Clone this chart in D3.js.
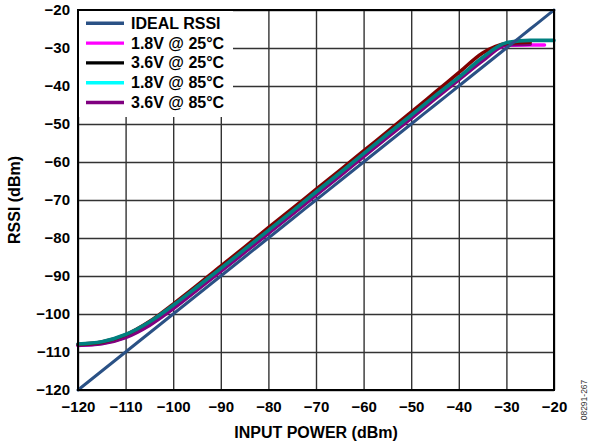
<!DOCTYPE html>
<html lang="en">
<head>
<meta charset="utf-8">
<title>RSSI vs Input Power</title>
<style>
  body { margin: 0; background: #fff; }
  text { font-family: "Liberation Sans", Arial, sans-serif; font-weight: bold; fill: #000; }
  .tick-label text { font-size: 15px; }
  .axis-title { font-size: 16px; text-anchor: middle; }
  .legend text { font-size: 16px; }
  .grid line { stroke: #333; stroke-width: 1.4; }
  .grid path { display: none; }
  .series { fill: none; stroke-linejoin: round; stroke-linecap: round; }
  .code { font-family: "Liberation Sans", Arial, sans-serif; font-weight: normal; font-size: 8.5px; fill: #333; }
</style>
</head>
<body>
<div id="chart"></div>
<script src="https://cdn.jsdelivr.net/npm/d3@7"></script>
<script>
  // input power points (dBm)
  var powerIn = [-120, -115, -110, -105, -100, -95, -90, -85, -80, -75, -70,
                 -65, -60, -55, -50, -45, -40, -35, -30, -25, -22, -20];

  var idealRssi = [-120, -115, -110, -105, -100, -95, -90, -85, -80, -75, -70,
                   -65, -60, -55, -50, -45, -40, -35, -30, -25, -22, -20];

  var rssi18v25 = [-108.3, -107.7, -106.0, -102.8, -98.4, -93.5, -88.6, -83.6, -78.6, -73.6, -68.5,
                   -63.5, -58.4, -53.3, -48.2, -42.8, -37.9, -33.0, -29.3, -29.2, -29.2, null];

  var rssi36v85 = [-108.2, -107.8, -106.2, -103.0, -98.6, -93.7, -88.8, -83.8, -78.8, -73.8, -68.7,
                   -63.7, -58.6, -53.5, -48.5, -43.4, -38.4, -33.4, -29.2, -29.0, null, null];

  var rssi36v25 = [-108.0, -107.4, -105.5, -102.0, -97.4, -92.5, -87.4, -82.4, -77.3, -72.3, -67.2,
                   -62.2, -57.1, -52.0, -46.9, -41.7, -36.5, -31.3, -28.8, -28.5, null, null];

  var rssi18v85 = [-107.9, -107.3, -105.4, -102.1, -97.7, -92.9, -88.0, -83.0, -78.0, -73.0, -67.9,
                   -62.9, -57.8, -52.7, -47.7, -42.6, -37.7, -32.5, -28.6, -28.0, -28.0, -28.0];

  var xTicks = [-120, -110, -100, -90, -80, -70, -60, -50, -40, -30, -20];
  var yTicks = [-120, -110, -100, -90, -80, -70, -60, -50, -40, -30, -20];

  var legendNames = ["IDEAL RSSI", "1.8V @ 25°C", "3.6V @ 25°C", "1.8V @ 85°C", "3.6V @ 85°C"];
  var legendColors = ["#2a5185", "#ff00ff", "#000000", "#00ffff", "#800080"];

  var width = 590, height = 446;
  var plot = {left: 78, right: 554, top: 10, bottom: 390};

  var svg = d3.select("#chart").append("svg")
              .attr("width", width)
              .attr("height", height);

  var xScale = d3.scaleLinear().domain([-120, -20]).range([plot.left, plot.right]);
  var yScale = d3.scaleLinear().domain([-120, -20]).range([plot.bottom, plot.top]);

  // grid lines
  svg.append("g")
     .attr("class", "grid")
     .attr("transform", "translate(0," + plot.bottom + ")")
     .call(d3.axisBottom(xScale).tickValues(xTicks).tickSize(-(plot.bottom - plot.top)).tickFormat(""));

  svg.append("g")
     .attr("class", "grid")
     .attr("transform", "translate(" + plot.left + ",0)")
     .call(d3.axisLeft(yScale).tickValues(yTicks).tickSize(-(plot.right - plot.left)).tickFormat(""));

  // legend background hides grid
  var legend = svg.append("g").attr("class", "legend");
  legend.append("rect")
        .attr("x", plot.left)
        .attr("y", plot.top)
        .attr("width", 155)
        .attr("height", 107)
        .style("fill", "#fff");

  // series
  var series = [
    {values: rssi18v25, color: "#ff00ff"},
    {values: rssi36v85, color: "#800080"},
    {values: rssi36v25, color: "#800000"},
    {values: rssi18v85, color: "#008080"},
    {values: idealRssi, color: "#2a5185"}
  ];

  var line = d3.line()
               .defined(function(d){ return d[1] !== null; })
               .x(function(d){ return xScale(d[0]); })
               .y(function(d){ return yScale(d[1]); })
               .curve(d3.curveMonotoneX);

  svg.selectAll("path.series")
     .data(series)
     .enter()
     .append("path")
     .attr("class", "series")
     .attr("d", function(s){
        return line(powerIn.map(function(x, i){ return [x, s.values[i]]; }));
     })
     .style("stroke", function(s){ return s.color; })
     .style("stroke-width", function(s, i){ return i === 4 ? 3 : 3.6; });

  // frame
  svg.append("rect")
     .attr("x", plot.left)
     .attr("y", plot.top)
     .attr("width", plot.right - plot.left)
     .attr("height", plot.bottom - plot.top)
     .style("fill", "none")
     .style("stroke", "#000")
     .style("stroke-width", 2);

  // legend entries
  var items = legend.selectAll("g.item")
                    .data(legendNames)
                    .enter()
                    .append("g")
                    .attr("class", "item")
                    .attr("transform", function(d, i){
                      return "translate(86," + (23.3 + i * 19.8) + ")";
                    });

  items.append("line")
       .attr("x1", 0)
       .attr("x2", 38)
       .style("stroke", function(d, i){ return legendColors[i]; })
       .style("stroke-width", 3.4);

  items.append("text")
       .attr("x", 45)
       .attr("y", 5.5)
       .text(function(d){ return d; });

  // tick labels
  svg.append("g")
     .attr("class", "tick-label")
     .attr("transform", "translate(0," + plot.bottom + ")")
     .call(d3.axisBottom(xScale).tickValues(xTicks).tickSize(0).tickPadding(11))
     .call(function(g){ g.select(".domain").remove(); });

  svg.append("g")
     .attr("class", "tick-label")
     .attr("transform", "translate(" + plot.left + ",0)")
     .call(d3.axisLeft(yScale).tickValues(yTicks).tickSize(0).tickPadding(8))
     .call(function(g){ g.select(".domain").remove(); });

  svg.selectAll(".tick-label text").style("fill", "#000");

  // axis titles
  svg.append("text")
     .attr("class", "axis-title")
     .attr("x", (plot.left + plot.right) / 2)
     .attr("y", 438)
     .text("INPUT POWER (dBm)");

  svg.append("text")
     .attr("class", "axis-title")
     .attr("transform", "rotate(-90)")
     .attr("x", -(plot.top + plot.bottom) / 2)
     .attr("y", 20)
     .text("RSSI (dBm)");

  svg.append("text")
     .attr("class", "code")
     .attr("transform", "rotate(-90)")
     .attr("x", -400)
     .attr("y", 587)
     .style("text-anchor", "middle")
     .text("08291-267");
</script>
</body>
</html>
